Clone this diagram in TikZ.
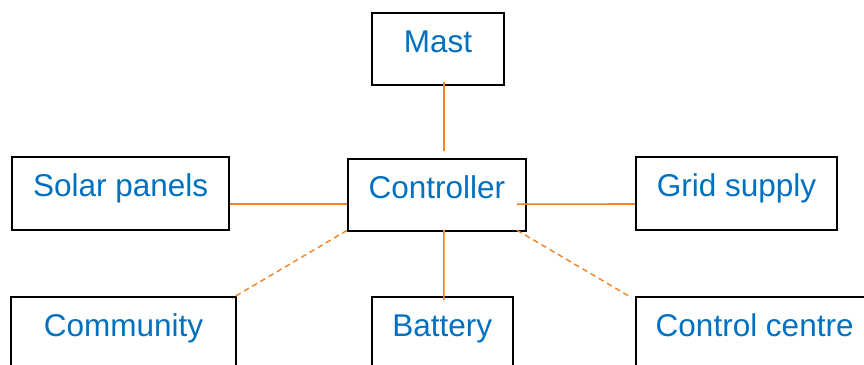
\documentclass[tikz,border=0pt]{standalone}
\usepackage{fontspec}
\setmainfont{Liberation Sans}
\usetikzlibrary{calc}
\definecolor{txtblue}{RGB}{0,112,192}
\definecolor{lnorange}{RGB}{245,130,32}
\begin{document}
\begin{tikzpicture}[x=1pt,y=-1pt,
  box/.style={draw=black, line width=1.9pt, rectangle, inner sep=0pt, anchor=north west,
    text=txtblue, font=\fontsize{31.5}{36}\selectfont, align=center,
    text height=40pt, text depth=#1},
  box/.default=32.5pt,
  link/.style={draw=lnorange, line width=1.6pt},
  dlink/.style={link, line width=1.4pt, dash pattern=on 5.5pt off 4pt}]
\useasboundingbox (0,0) rectangle (864,364);
\fill[white] (0,0) rectangle (864,364);
\node[box=32pt, minimum width=132pt] (mast) at (371,12) {Mast};
\node[box=32.3pt, minimum width=178pt] (ctrl) at (347,157.7) {Controller};
\node[box=33pt, minimum width=217pt] (solar) at (11.3,155.7) {Solar panels};
\node[box=33.3pt, minimum width=201pt] (grid) at (635,156) {Grid supply};
\node[box=90pt, minimum width=224.7pt] (comm) at (10.3,296) {Community};
\node[box=90pt, minimum width=140.7pt] (batt) at (371,296) {Battery};
\node[box=90pt, minimum width=238pt] (cc) at (634.7,296) {Control centre};
\draw[link] ($(mast.south)+(6,-4)$) -- ($(ctrl.north)+(7,-6.7)$);
\draw[link] ($(solar.north east)+(0,48.5)$) -- ($(ctrl.north west)+(0,46.5)$);
\draw[link] ($(ctrl.north east)+(-10,46.5)$) -- ($(grid.north west)+(0,48)$);
\draw[link] ($(ctrl.south)+(7,-2)$) -- ($(batt.north)+(1.5,4)$);
\draw[dlink] ($(ctrl.south west)+(0,-1.5)$) -- ($(comm.north east)+(-5,2.3)$);
\draw[dlink] ($(ctrl.south east)+(-10,-1.7)$) -- ($(cc.north west)+(-3,1.7)$);
\end{tikzpicture}
\end{document}
